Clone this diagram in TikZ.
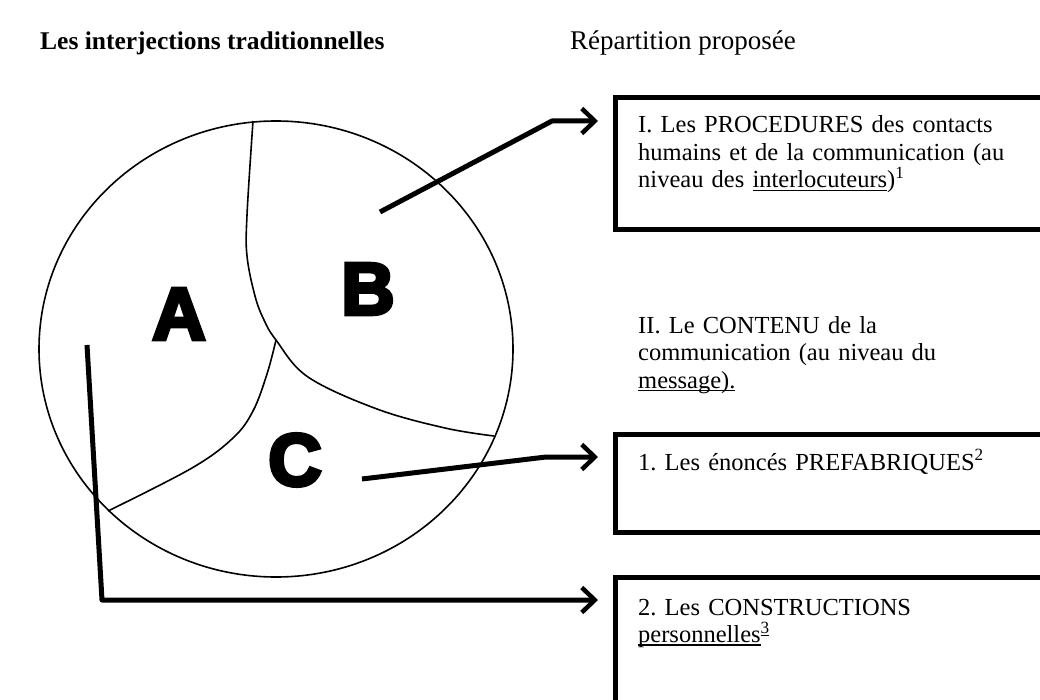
\documentclass[tikz,border=0pt]{standalone}
\usepackage{fontspec}
\setmainfont{Liberation Serif}
\newfontfamily\heavyfont{Liberation Sans}[FakeBold=5]
\newsavebox\ulbox
\newcommand\myul[1]{\leavevmode\sbox\ulbox{#1}\rlap{\rule[-3pt]{\wd\ulbox}{1.3pt}}\usebox\ulbox}
\usetikzlibrary{arrows.meta}
\tikzset{
  region/.style={line width=1.6pt},
  conn/.style={line width=5pt, line join=round, -{Straight Barb[length=13pt,width=25pt,line width=4.5pt]}},
  framebox/.style={draw, line width=5pt, anchor=north west, inner sep=0pt, minimum width=470pt},
  txt/.style={anchor=base west, inner sep=0pt, text width=420pt, align=left, font=\fontsize{24.5}{27.5}\selectfont},
  heading/.style={anchor=base west, inner sep=0pt, font=\fontsize{27}{30}\selectfont},
  letter/.style={inner sep=0pt, font=\heavyfont\bfseries\fontsize{74}{74}\selectfont}
}
\begin{document}
\frenchspacing
\begin{tikzpicture}[x=1pt,y=-1pt]
\useasboundingbox (0,0) rectangle (1040,700);
\clip (0,0) rectangle (1040,700);
% headings
\node[heading, font=\bfseries\fontsize{25.5}{30}\selectfont] (h1) at (40,50) {Les interjections traditionnelles};
\node[heading] (h2) at (570,50) {Répartition proposée};
% circle and regions
\draw[region] (276,349) ellipse [x radius=237pt, y radius=228pt];
\draw[region] plot[smooth, tension=0.6] coordinates {(253,121) (247,215) (247,256) (255,296) (264,320) (276,340) (308,377) (377,409) (445,428) (494,436)};
\draw[region] plot[smooth, tension=0.6] coordinates {(276,340) (267,374) (253,411) (233,438) (192,468) (108,511)};
\node[letter] (A) at (179,314) {A};
\node[letter] (B) at (368,289) {B};
\node[letter] (C) at (295,460) {C};
% boxes
\node[framebox, minimum height=132pt] (boxI) at (613,95) {};
\node[framebox, minimum height=98pt] (box1) at (613,432) {};
\node[framebox, minimum height=160pt] (box2) at (613,575) {};
% texts
\node[txt] (tI) at (638,133) {I. Les PROCEDURES des contacts\\humains et de la communication (au\\niveau des \myul{interlocuteurs})\textsuperscript{1}};
\node[txt] (tII) at (638,333) {II. Le CONTENU de la\\communication (au niveau du\\\myul{message).}};
\node[txt] (t1) at (638,470) {1. Les énoncés PREFABRIQUES\textsuperscript{2}};
\node[txt] (t2) at (638,615) {2. Les CONSTRUCTIONS\\\myul{personnelles}\textsuperscript{\myul{3}}};
% connectors
\coordinate (sB) at (380,212);
\coordinate (kB) at (552,121);
\coordinate (tipB) at (598,121);
\coordinate (sC) at (362,479);
\coordinate (kC) at (546,457);
\coordinate (tipC) at (598,457);
\coordinate (sA) at (87,345);
\coordinate (kA) at (102,600);
\coordinate (tipA) at (598,600);
\draw[conn] (sB) -- (kB) -- (tipB);
\draw[conn] (sC) -- (kC) -- (tipC);
\draw[conn] (sA) -- (kA) -- (tipA);
\end{tikzpicture}
\end{document}
